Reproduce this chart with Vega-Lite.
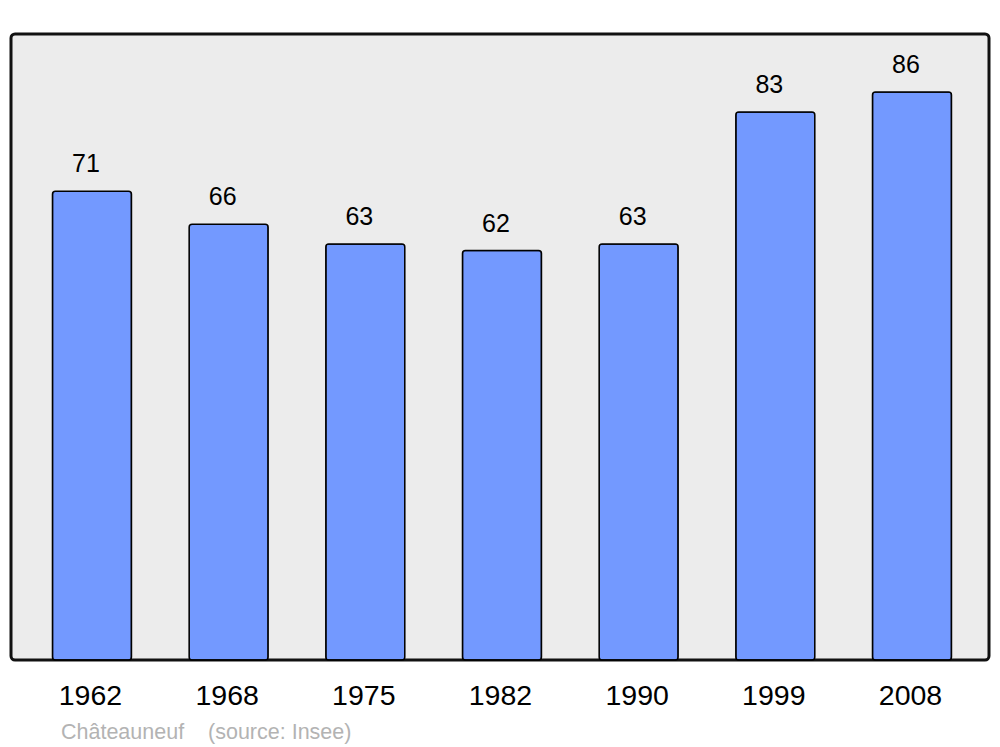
{
  "$schema": "https://vega.github.io/schema/vega-lite/v6.json",
  "width": 978,
  "height": 626,
  "autosize": "none",
  "padding": {"left": 11, "top": 34, "right": 11, "bottom": 87},
  "background": "white",
  "config": {
    "font": "Liberation Sans",
    "view": {"fill": "#ececec", "stroke": "#111111", "strokeWidth": 3, "cornerRadius": 4}
  },
  "title": {
    "text": "Châteauneuf\u00a0\u00a0\u00a0\u00a0(source: Insee)",
    "orient": "bottom",
    "anchor": "start",
    "dx": 50,
    "offset": 12,
    "fontSize": 21.5,
    "fontWeight": "normal",
    "color": "#b3b3b3",
    "font": "Liberation Sans"
  },
  "data": {
    "values": [
      {"year": "1962", "pop": 71},
      {"year": "1968", "pop": 66},
      {"year": "1975", "pop": 63},
      {"year": "1982", "pop": 62},
      {"year": "1990", "pop": 63},
      {"year": "1999", "pop": 83},
      {"year": "2008", "pop": 86}
    ]
  },
  "encoding": {
    "x": {
      "field": "year",
      "type": "nominal",
      "sort": null,
      "scale": {"paddingInner": 0.422, "paddingOuter": 0.289, "align": 0.525},
      "axis": {
        "title": null,
        "domain": false,
        "ticks": false,
        "labelAngle": 0,
        "labelFontSize": 28.5,
        "labelColor": "#000000",
        "labelPadding": 21,
        "labelFont": "Liberation Sans",
        "labelOffset": -1.5
      }
    },
    "y": {
      "field": "pop",
      "type": "quantitative",
      "scale": {"domain": [0, 94.8], "nice": false, "zero": true},
      "axis": null
    }
  },
  "layer": [
    {
      "mark": {"type": "bar", "fill": "#7399ff", "stroke": "#000000", "strokeWidth": 1.5, "cornerRadius": 3}
    },
    {
      "mark": {"type": "text", "baseline": "alphabetic", "dy": -19, "dx": -6, "fontSize": 25, "color": "#000000", "font": "Liberation Sans"},
      "encoding": {"text": {"field": "pop", "type": "quantitative"}}
    }
  ]
}
